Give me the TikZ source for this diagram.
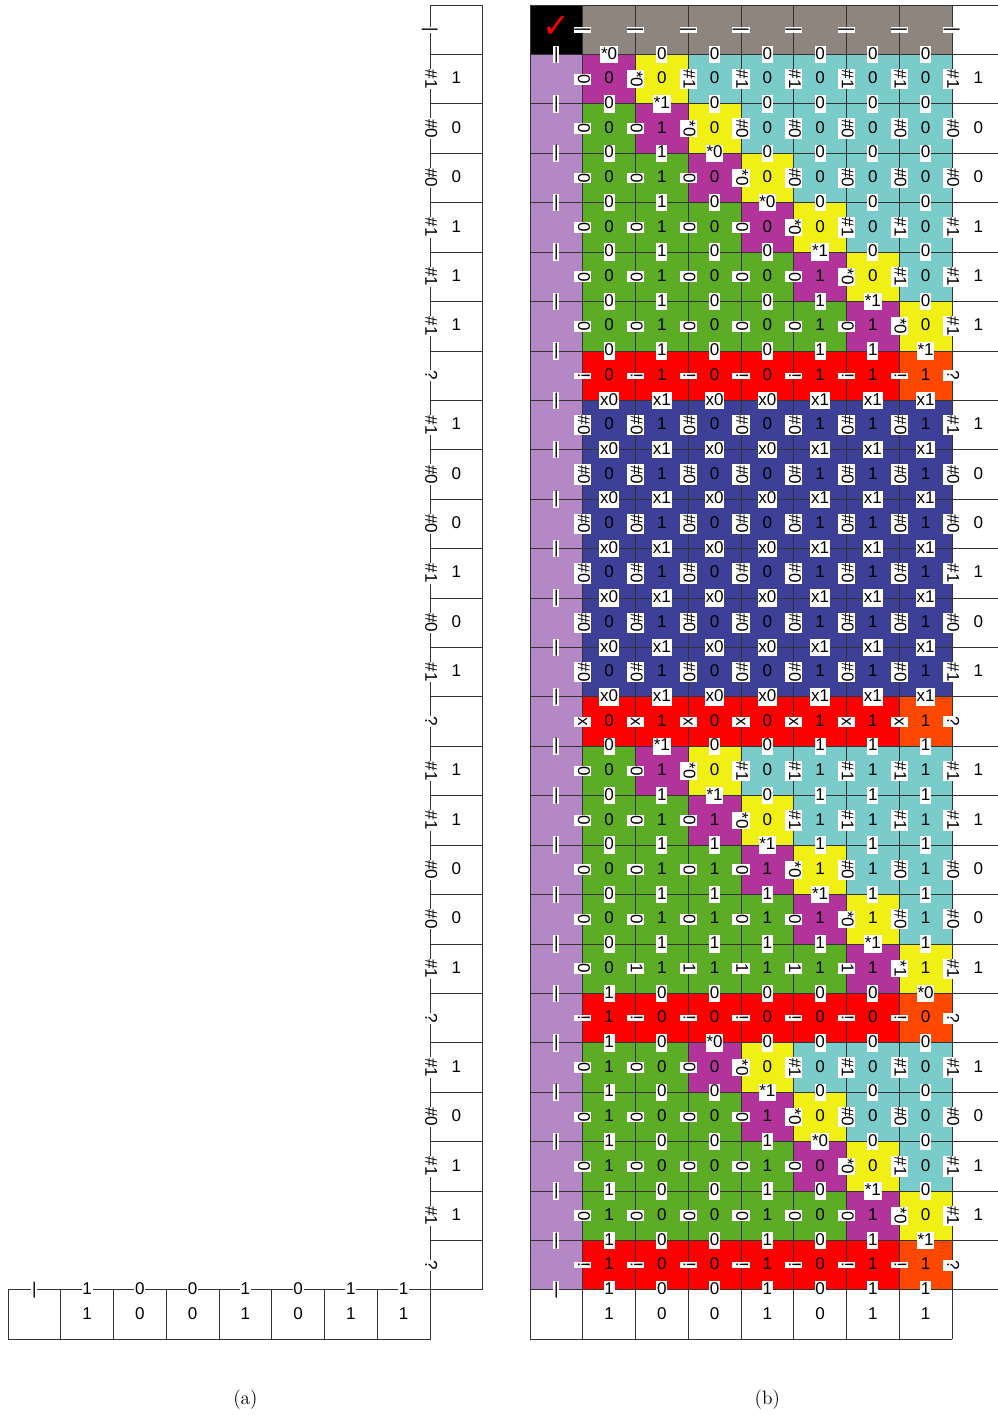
\documentclass[tikz,border=0pt]{standalone}
\usepackage{fontspec}
\usepackage{xcolor}
\newfontfamily\tilefont{Liberation Sans}
\newfontfamily\symfont{DejaVu Sans}
\definecolor{Lilac}{RGB}{180, 136, 196}
\definecolor{Plum}{RGB}{178, 52, 154}
\definecolor{Lemon}{RGB}{240, 240, 20}
\definecolor{Aqua}{RGB}{122, 204, 202}
\definecolor{Grass}{RGB}{92, 172, 38}
\definecolor{Scarlet}{RGB}{255, 0, 0}
\definecolor{Flame}{RGB}{255, 72, 0}
\definecolor{Indigo}{RGB}{62, 64, 152}
\definecolor{Taupe}{RGB}{143, 133, 127}
\pgfdeclarelayer{tiles}
\pgfsetlayers{tiles,main}

% row of tiles: row, fills, centre labels, side labels, right value, bottom labels
\newcommand{\tilerow}[6]{%
  \begin{pgfonlayer}{tiles}
    \fill[fill=Lilac] (0,#1) rectangle ++(1,1);
    \foreach \fc [count=\c] in {#2}
      \fill[fill=\fc] (\c,#1) rectangle ++(1,1);
  \end{pgfonlayer}
  \foreach \lab [count=\c] in {#3}
    \node[midlab] at (\c+0.5,#1+0.5) {\lab};
  \foreach \lab [count=\c] in {#4}
    \node[sidelab] at (\c,#1+0.5) {\lab};
  \node[midlab] at (8.5,#1+0.5) {#5};
  \node[toplab] at (0.5,#1+1) {|};
  \foreach \lab [count=\c] in {#6}
    \node[toplab] at (\c+0.5,#1+1) {\lab};
}

\begin{document}
\begin{tikzpicture}[
    x=1.055cm, y=-0.9884cm,
    rule/.style={draw=black!80, line width=0.5pt},
    midlab/.style={font=\tilefont\fontsize{9.7}{11}\selectfont, inner sep=0.4pt, text height=7.2pt, text depth=1.9pt},
    toplab/.style={midlab, fill=white},
    sidelab/.style={toplab, rotate=-90},
    caption/.style={font=\fontsize{11}{13}\selectfont}
]
\useasboundingbox (-10.0474,-0.1012) rectangle (8.872,28.531);

% (b) the tiling
\begin{pgfonlayer}{tiles}
  \fill[black] (0,0) rectangle (1,1);
  \fill[Taupe] (1,0) rectangle (8,1);
\end{pgfonlayer}
\foreach \c in {0,...,8} \draw[rule] (\c,0) -- (\c,27);
\foreach \r in {0,...,26} \draw[rule] (0,\r) -- (8.872,\r);
\draw[rule] (0,27) -- (8,27);

\node[text=red, font=\symfont\fontsize{19}{19}\selectfont] (tick) at (0.5,0.45) {✓};
\foreach \c in {1,...,8} \node[sidelab] at (\c,0.5) {|};
\node[toplab] at (0.5,1) {|};
\foreach \lab [count=\c] in {*0,0,0,0,0,0,0}
  \node[toplab] at (\c+0.5,1) {\lab};

\tilerow{1}{Plum,Lemon,Aqua,Aqua,Aqua,Aqua,Aqua}{0,0,0,0,0,0,0}{0,*0,\#1,\#1,\#1,\#1,\#1,\#1}{1}{0,*1,0,0,0,0,0}
\tilerow{2}{Grass,Plum,Lemon,Aqua,Aqua,Aqua,Aqua}{0,1,0,0,0,0,0}{0,0,*0,\#0,\#0,\#0,\#0,\#0}{0}{0,1,*0,0,0,0,0}
\tilerow{3}{Grass,Grass,Plum,Lemon,Aqua,Aqua,Aqua}{0,1,0,0,0,0,0}{0,0,0,*0,\#0,\#0,\#0,\#0}{0}{0,1,0,*0,0,0,0}
\tilerow{4}{Grass,Grass,Grass,Plum,Lemon,Aqua,Aqua}{0,1,0,0,0,0,0}{0,0,0,0,*0,\#1,\#1,\#1}{1}{0,1,0,0,*1,0,0}
\tilerow{5}{Grass,Grass,Grass,Grass,Plum,Lemon,Aqua}{0,1,0,0,1,0,0}{0,0,0,0,0,*0,\#1,\#1}{1}{0,1,0,0,1,*1,0}
\tilerow{6}{Grass,Grass,Grass,Grass,Grass,Plum,Lemon}{0,1,0,0,1,1,0}{0,0,0,0,0,0,*0,\#1}{1}{0,1,0,0,1,1,*1}
\tilerow{7}{Scarlet,Scarlet,Scarlet,Scarlet,Scarlet,Scarlet,Flame}{0,1,0,0,1,1,1}{!,!,!,!,!,!,!,?}{}{x0,x1,x0,x0,x1,x1,x1}
\tilerow{8}{Indigo,Indigo,Indigo,Indigo,Indigo,Indigo,Indigo}{0,1,0,0,1,1,1}{\#0,\#0,\#0,\#0,\#0,\#0,\#0,\#1}{1}{x0,x1,x0,x0,x1,x1,x1}
\tilerow{9}{Indigo,Indigo,Indigo,Indigo,Indigo,Indigo,Indigo}{0,1,0,0,1,1,1}{\#0,\#0,\#0,\#0,\#0,\#0,\#0,\#0}{0}{x0,x1,x0,x0,x1,x1,x1}
\tilerow{10}{Indigo,Indigo,Indigo,Indigo,Indigo,Indigo,Indigo}{0,1,0,0,1,1,1}{\#0,\#0,\#0,\#0,\#0,\#0,\#0,\#0}{0}{x0,x1,x0,x0,x1,x1,x1}
\tilerow{11}{Indigo,Indigo,Indigo,Indigo,Indigo,Indigo,Indigo}{0,1,0,0,1,1,1}{\#0,\#0,\#0,\#0,\#0,\#0,\#0,\#1}{1}{x0,x1,x0,x0,x1,x1,x1}
\tilerow{12}{Indigo,Indigo,Indigo,Indigo,Indigo,Indigo,Indigo}{0,1,0,0,1,1,1}{\#0,\#0,\#0,\#0,\#0,\#0,\#0,\#0}{0}{x0,x1,x0,x0,x1,x1,x1}
\tilerow{13}{Indigo,Indigo,Indigo,Indigo,Indigo,Indigo,Indigo}{0,1,0,0,1,1,1}{\#0,\#0,\#0,\#0,\#0,\#0,\#0,\#1}{1}{x0,x1,x0,x0,x1,x1,x1}
\tilerow{14}{Scarlet,Scarlet,Scarlet,Scarlet,Scarlet,Scarlet,Flame}{0,1,0,0,1,1,1}{x,x,x,x,x,x,x,?}{}{0,*1,0,0,1,1,1}
\tilerow{15}{Grass,Plum,Lemon,Aqua,Aqua,Aqua,Aqua}{0,1,0,0,1,1,1}{0,0,*0,\#1,\#1,\#1,\#1,\#1}{1}{0,1,*1,0,1,1,1}
\tilerow{16}{Grass,Grass,Plum,Lemon,Aqua,Aqua,Aqua}{0,1,1,0,1,1,1}{0,0,0,*0,\#1,\#1,\#1,\#1}{1}{0,1,1,*1,1,1,1}
\tilerow{17}{Grass,Grass,Grass,Plum,Lemon,Aqua,Aqua}{0,1,1,1,1,1,1}{0,0,0,0,*0,\#0,\#0,\#0}{0}{0,1,1,1,*1,1,1}
\tilerow{18}{Grass,Grass,Grass,Grass,Plum,Lemon,Aqua}{0,1,1,1,1,1,1}{0,0,0,0,0,*0,\#0,\#0}{0}{0,1,1,1,1,*1,1}
\tilerow{19}{Grass,Grass,Grass,Grass,Grass,Plum,Lemon}{0,1,1,1,1,1,1}{0,1,1,1,1,1,*1,\#1}{1}{1,0,0,0,0,0,*0}
\tilerow{20}{Scarlet,Scarlet,Scarlet,Scarlet,Scarlet,Scarlet,Flame}{1,0,0,0,0,0,0}{!,!,!,!,!,!,!,?}{}{1,0,*0,0,0,0,0}
\tilerow{21}{Grass,Grass,Plum,Lemon,Aqua,Aqua,Aqua}{1,0,0,0,0,0,0}{0,0,0,*0,\#1,\#1,\#1,\#1}{1}{1,0,0,*1,0,0,0}
\tilerow{22}{Grass,Grass,Grass,Plum,Lemon,Aqua,Aqua}{1,0,0,1,0,0,0}{0,0,0,0,*0,\#0,\#0,\#0}{0}{1,0,0,1,*0,0,0}
\tilerow{23}{Grass,Grass,Grass,Grass,Plum,Lemon,Aqua}{1,0,0,1,0,0,0}{0,0,0,0,0,*0,\#1,\#1}{1}{1,0,0,1,0,*1,0}
\tilerow{24}{Grass,Grass,Grass,Grass,Grass,Plum,Lemon}{1,0,0,1,0,1,0}{0,0,0,0,0,0,*0,\#1}{1}{1,0,0,1,0,1,*1}
\tilerow{25}{Scarlet,Scarlet,Scarlet,Scarlet,Scarlet,Scarlet,Flame}{1,0,0,1,0,1,1}{!,!,!,!,!,!,!,?}{}{1,0,0,1,0,1,1}

\foreach \val [count=\c] in {1,0,0,1,0,1,1}
  \node[midlab] at (\c+0.5,26.5) {\val};
\node[caption] (capB) at (4.5,28.227) {(b)};

% (a) the border only
\begin{scope}[shift={(-9.8957,0)}]
  \foreach \r in {0,...,26} \draw[rule] (8,\r) -- (9,\r);
  \draw[rule] (8,0) -- (8,26) (9,0) -- (9,26);
  \draw[rule] (0,26) rectangle (8,27);
  \foreach \c in {1,...,7} \draw[rule] (\c,26) -- (\c,27);
  \foreach \lab/\val [count=\r from 0] in {|/{},\#1/1,\#0/0,\#0/0,\#1/1,\#1/1,\#1/1,?/{},\#1/1,\#0/0,\#0/0,\#1/1,\#0/0,\#1/1,?/{},\#1/1,\#1/1,\#0/0,\#0/0,\#1/1,?/{},\#1/1,\#0/0,\#1/1,\#1/1,?/{}}{
    \node[sidelab] at (8,\r+0.5) {\lab};
    \node[midlab] at (8.5,\r+0.5) {\val};
  }
  \foreach \lab/\val [count=\c from 0] in {|/{},1/1,0/0,0/0,1/1,0/0,1/1,1/1}{
    \node[toplab] at (\c+0.5,26) {\lab};
    \node[midlab] at (\c+0.5,26.5) {\val};
  }
  \node[caption] (capA) at (4.5,28.227) {(a)};
\end{scope}
\end{tikzpicture}
\end{document}
